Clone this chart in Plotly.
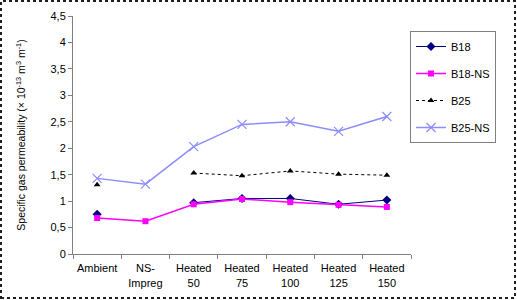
import plotly.graph_objects as go

categories = ["Ambient", "NS-<br>Impreg", "Heated<br>50", "Heated<br>75", "Heated<br>100", "Heated<br>125", "Heated<br>150"]
b18 = [0.75, None, 0.97, 1.05, 1.05, 0.94, 1.02]
b18_ns = [0.68, 0.62, 0.94, 1.04, 0.98, 0.93, 0.89]
b25 = [1.31, None, 1.53, 1.48, 1.57, 1.51, 1.49]
b25_ns = [1.43, 1.32, 2.03, 2.45, 2.50, 2.32, 2.60]
ytick_vals = [0, 0.5, 1, 1.5, 2, 2.5, 3, 3.5, 4, 4.5]
ytick_text = ["0", "0,5", "1", "1,5", "2", "2,5", "3", "3,5", "4", "4,5"]

fig = go.Figure()
fig.add_trace(go.Scatter(x=categories, y=b18, name="B18", mode="lines+markers",
                         line=dict(color="#000080", width=1),
                         marker=dict(symbol="diamond", size=7, color="#000080"),
                         legendgroup="a"))
fig.add_trace(go.Scatter(x=categories, y=b18_ns, name="B18-NS", mode="lines+markers",
                         line=dict(color="#FF00FF", width=1.5),
                         marker=dict(symbol="square", size=6, color="#FF00FF"),
                         legendgroup="b"))
fig.add_trace(go.Scatter(x=categories, y=b25, name="B25", mode="lines+markers",
                         line=dict(color="#000000", width=1, dash="dot"),
                         marker=dict(symbol="triangle-up", size=6, color="#000000"),
                         legendgroup="c"))
fig.add_trace(go.Scatter(x=categories, y=b25_ns, name="B25-NS", mode="lines+markers",
                         line=dict(color="#8C8CFF", width=1.5),
                         marker=dict(symbol="x-thin-open", size=9, color="#8C8CFF",
                                     line=dict(color="#8C8CFF", width=1.2)),
                         legendgroup="d"))

L, R, T, B = 73, 106, 16, 46
W, H = 517, 300
pw, ph = W - L - R, H - T - B

fig.update_layout(
    width=W, height=H,
    margin=dict(l=L, r=R, t=T, b=B, autoexpand=False),
    paper_bgcolor="white", plot_bgcolor="white",
    font=dict(family="Liberation Sans, Arial, sans-serif", size=11, color="black"),
    legend=dict(x=(410 - L) / pw, y=(H - B - 31) / ph, xanchor="left", yanchor="top",
                bordercolor="#808080", borderwidth=1, bgcolor="white",
                tracegroupgap=8, font=dict(size=11), itemwidth=30),
    xaxis=dict(type="category", tickson="boundaries", showline=True, linecolor="#808080",
               ticks="outside", ticklen=4, tickcolor="#808080", showgrid=False,
               range=[-0.5, 6.5], tickangle=0, tickfont=dict(size=11),
               ticklabelstandoff=4),
    yaxis=dict(range=[0, 4.5], tickvals=ytick_vals, ticktext=ytick_text,
               showline=True, linecolor="#808080", ticks="outside", ticklen=4,
               tickcolor="#808080", showgrid=False, zeroline=False,
               title=dict(text="Specific gas permeability (× 10<sup>-13</sup> m<sup>3</sup> m<sup>-1</sup>)",
                          font=dict(size=10.5), standoff=22)),
    shapes=[dict(type="rect", xref="paper", yref="paper",
                 x0=(1 - L) / pw, x1=(W - 2 - L) / pw,
                 y0=-(H - 2 - (H - B)) / ph, y1=(H - B - 1) / ph,
                 line=dict(color="#202020", width=2, dash="dot"))],
)

fig.write_html("out.html", config={"displayModeBar": False},
               post_script="document.body.style.margin='0';document.body.style.overflow='hidden';")
